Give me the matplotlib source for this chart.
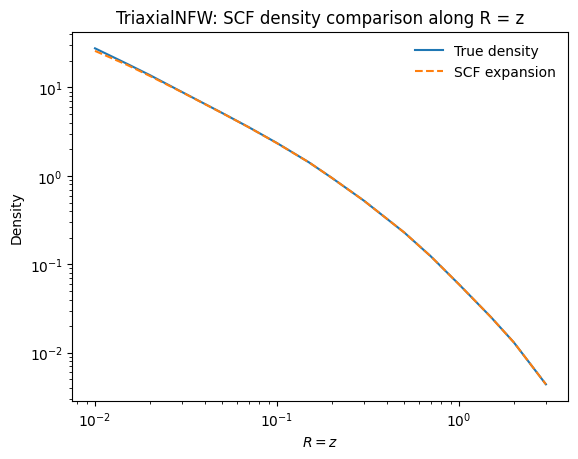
import numpy as np
import matplotlib.pyplot as plt

# values (R = z along the diagonal)
r_vals = [0.01, 0.015, 0.02, 0.03, 0.05, 0.07, 0.1, 0.15, 0.2, 0.3,
          0.5, 0.7, 1.0, 1.5, 2.0, 3.0]
rho_true = [27.7, 18.5, 13.8, 8.9, 5.14, 3.55, 2.35, 1.42, 0.95, 0.525,
            0.229, 0.123, 0.0593, 0.0252, 0.0131, 0.00440]
rho_scf = [25.9, 18.0, 13.5, 8.85, 5.12, 3.54, 2.34, 1.42, 0.95, 0.525,
           0.229, 0.123, 0.0593, 0.0252, 0.0131, 0.00440]

fig, ax = plt.subplots()

ax.loglog(r_vals, rho_true, label='True density')
ax.loglog(r_vals, rho_scf, '--', label='SCF expansion')

ax.set_xlabel('$R = z$')
ax.set_ylabel('Density')
ax.set_title('TriaxialNFW: SCF density comparison along R = z')
ax.legend(frameon=False)

plt.savefig('out.png', bbox_inches='tight')
